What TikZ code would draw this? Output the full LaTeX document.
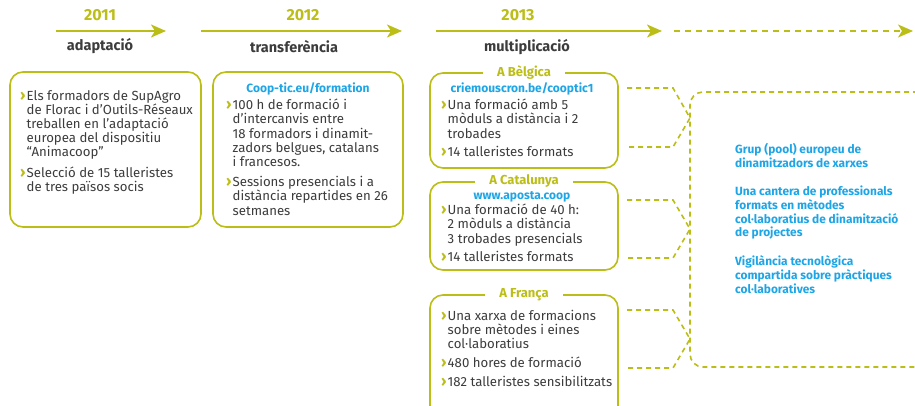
\documentclass[tikz,border=0pt]{standalone}
\usepackage{fontspec}
\setmainfont{Fira Sans}
\usetikzlibrary{arrows.meta}
\definecolor{olv}{RGB}{188,190,24}
\definecolor{cyb}{RGB}{30,165,230}
\definecolor{txt}{RGB}{60,60,60}
\newcommand\itm{\makebox[6.5pt][l]{\smash{\fontsize{15}{14}\selectfont\color{olv}\bfseries ›}}}
\newcommand\ind{\hspace*{6.5pt}}
\begin{document}
\begin{tikzpicture}[x=1pt,y=-1pt,
  panel/.style={draw=olv, line width=1.6pt, rounded corners=13pt, inner sep=0pt},
  dpanel/.style={draw=olv, line width=1.6pt, rounded corners=13pt, inner sep=0pt, dash pattern=on 5pt off 4pt},
  dsh/.style={draw=olv, line width=1.6pt, dash pattern=on 5pt off 4pt},
  tl/.style={draw=olv, line width=1.8pt, -{Stealth[length=15pt,width=13pt,inset=4pt]}},
  year/.style={text=olv, font=\fontsize{16}{18}\selectfont\bfseries, inner sep=0pt},
  phase/.style={text=txt, font=\fontsize{14.5}{16}\selectfont\bfseries, inner sep=0pt},
  ttl/.style={fill=white, text=olv, font=\fontsize{13}{15}\selectfont\bfseries, inner xsep=14pt, inner ysep=1pt},
  url/.style={text=cyb, font=\fontsize{12}{13}\selectfont\bfseries, inner sep=0pt},
  body/.style={text=txt, font=\fontsize{13.2}{14.2}\selectfont, align=left, inner sep=0pt, anchor=north west},
  res/.style={text=cyb, font=\fontsize{11.9}{13.7}\selectfont\bfseries, align=left, inner sep=0pt, anchor=north west}
]
\clip (0,0) rectangle (915,405);
\fill[white] (0,0) rectangle (915,405);

% timeline
\coordinate (a1s) at (56,31);  \coordinate (a1e) at (166,31);
\coordinate (a2s) at (201,31); \coordinate (a2e) at (402,31);
\coordinate (a3s) at (436,31); \coordinate (a3e) at (662,31);
\coordinate (a4s) at (674,31); \coordinate (a4e) at (913,31);
\draw[tl] (a1s) -- (a1e);
\draw[tl] (a2s) -- (a2e);
\draw[tl] (a3s) -- (a3e);
\draw[tl, dash pattern=on 6pt off 5pt] (a4s) -- (a4e);
\node[year] (y1) at (100,15) {2011};
\node[year] (y2) at (303,15) {2012};
\node[year] (y3) at (518,15) {2013};
\node[phase] (ph1) at (100,46) {adaptació};
\node[phase] (ph2) at (294,47) {transferència};
\node[phase] (ph3) at (527,47) {multiplicació};

% panels
\node[panel, minimum width=191pt, minimum height=155pt] (p1) at (105.5,149.5) {};
\node[panel, minimum width=190pt, minimum height=155pt] (p2) at (308,149.5) {};
\node[panel, minimum width=188pt, minimum height=95pt] (pb) at (524,120.5) {};
\node[panel, minimum width=188pt, minimum height=88pt] (pc) at (524,226) {};
\node[panel, minimum width=188pt, minimum height=125pt] (pf) at (524,357.5) {};
\node[dpanel, minimum width=250pt, minimum height=275pt] (pr) at (815,229.5) {};

\node[ttl] (tb) at (pb.north) {A Bèlgica};
\node[ttl] (tc) at (pc.north) {A Catalunya};
\node[ttl] (tf) at (pf.north) {A França};

% texts
\node[body] (t1) at (20,90) {\itm Els formadors de SupAgro\\ \ind de Florac i d’Outils-Réseaux\\ \ind treballen en l’adaptació\\ \ind europea del dispositiu\\ \ind “Animacoop”\\[6pt] \itm Selecció de 15 talleristes\\ \ind de tres països socis};

\node[url] (u2) at (308,89) {Coop-tic.eu/formation};
\node[body] (t2) at (226,99) {\itm 100 h de formació i\\ \ind d’intercanvis entre\\ \ind 18 formadors i dinamit-\\ \ind zadors belgues, catalans\\ \ind i francesos.\\[6pt] \itm Sessions presencials i a\\ \ind distància repartides en 26\\ \ind setmanes};

\node[url] (ub) at (522,89) {criemouscron.be/cooptic1};
\node[body] (tbx) at (441,99) {\itm Una formació amb 5\\ \ind mòduls a distància i 2\\ \ind trobades\\[4pt] \itm 14 talleristes formats};

\node[url] (uc) at (522,197) {www.aposta.coop};
\node[body] (tcx) at (441,204) {\itm Una formació de 40 h:\\ \ind 2 mòduls a distància\\ \ind 3 trobades presencials\\[4pt] \itm 14 talleristes formats};

\node[body] (tfx) at (441,310) {\itm Una xarxa de formacions\\ \ind sobre mètodes i eines\\ \ind col·laboratius\\[4pt] \itm 480 hores de formació\\[5pt] \itm 182 talleristes sensibilitzats};

\node[res] (tr) at (735,143) {Grup (pool) europeu de\\ dinamitzadors de xarxes\\[15pt] Una cantera de professionals\\ formats en mètodes\\ col·laboratius de dinamització\\ de projectes\\[15pt] Vigilància tecnològica\\ compartida sobre pràctiques\\ col·laboratives};

% brackets
\coordinate (bb1) at (627,88);  \coordinate (bb2) at (673,88);
\coordinate (bb3) at (690,118); \coordinate (bb4) at (673,147); \coordinate (bb5) at (627,147);
\coordinate (cb1) at (627,200); \coordinate (cb2) at (673,200);
\coordinate (cb3) at (690,229); \coordinate (cb4) at (673,258); \coordinate (cb5) at (627,258);
\coordinate (fb1) at (627,310); \coordinate (fb2) at (673,310);
\coordinate (fb3) at (690,339); \coordinate (fb4) at (673,368); \coordinate (fb5) at (627,368);
\draw[dsh] (bb1) -- (bb2) -- (bb3) -- (bb4) -- (bb5);
\draw[dsh] (cb1) -- (cb2) -- (cb3) -- (cb4) -- (cb5);
\draw[dsh] (fb1) -- (fb2) -- (fb3) -- (fb4) -- (fb5);
\end{tikzpicture}
\end{document}
